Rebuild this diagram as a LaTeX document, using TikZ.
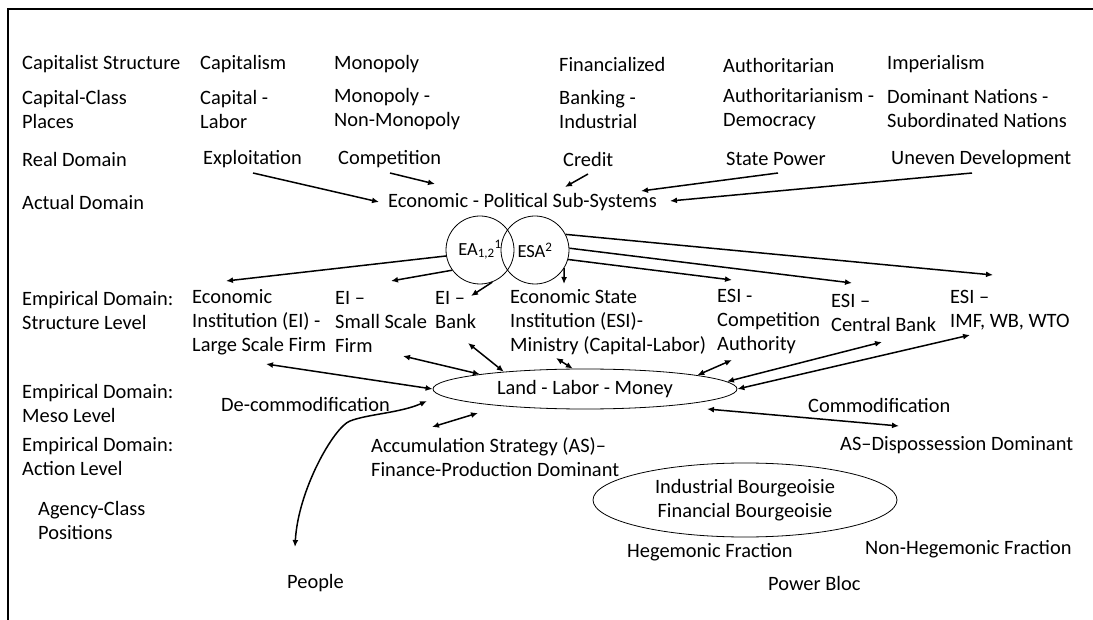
\documentclass[tikz,border=0pt]{standalone}
\usepackage{fontspec}
\setmainfont{Carlito}
\usepackage{tikz}
\usetikzlibrary{arrows.meta,shapes.geometric}
\tikzset{
  txt/.style={font=\fontsize{20.4pt}{24pt}\selectfont, anchor=west, inner sep=0pt, align=left},
  link/.style={draw=black, line width=1.5pt, -{Latex[length=7pt,width=6pt]}},
  both/.style={draw=black, line width=1.5pt, {Latex[length=7pt,width=6pt]}-{Latex[length=7pt,width=6pt]}},
  ring/.style={draw=black, line width=0.8pt, circle, minimum size=68pt, inner sep=0pt,
    font=\fontsize{18.5pt}{22pt}\selectfont},
  oval/.style={draw=black, line width=0.8pt, ellipse, inner sep=0pt, align=center,
    font=\fontsize{20.4pt}{24pt}\selectfont},
  frame/.style={draw=black, line width=1.8pt}
}

\begin{document}
\begin{tikzpicture}[x=1pt,y=-1pt]
  \useasboundingbox (0,0) rectangle (1093,620);
  \draw[frame] (8,620) -- (8,9) -- (1093,9);

  \node[txt] (capstr) at (22,64) {Capitalist Structure};
  \node[txt] (ccp) at (22,109) {Capital-Class\\Places};
  \node[txt] (real) at (22,159) {Real Domain};
  \node[txt] (actual) at (22,202) {Actual Domain};
  \node[txt] (empS) at (22,310) {Empirical Domain:\\Structure Level};
  \node[txt] (empM) at (22,403) {Empirical Domain:\\Meso Level};
  \node[txt] (empA) at (22,456) {Empirical Domain:\\Action Level};
  \node[txt] (agency) at (38,520) {Agency-Class\\Positions};

  \node[txt] (capism) at (200,64) {Capitalism};
  \node[txt] (mono) at (334,64) {Monopoly};
  \node[txt] (fin) at (559,64) {Financialized};
  \node[txt] (auth) at (723,65) {Authoritarian};
  \node[txt] (imp) at (887,64) {Imperialism};

  \node[txt] (cl) at (200,109) {Capital -\\Labor};
  \node[txt] (mnm) at (334,109) {Monopoly -\\Non-Monopoly};
  \node[txt] (bi) at (559,109) {Banking -\\Industrial};
  \node[txt] (ad) at (723,109) {Authoritarianism -\\Democracy};
  \node[txt] (dn) at (887,109) {Dominant Nations -\\Subordinated Nations};

  \node[txt] (expl) at (203,159) {Exploitation};
  \node[txt] (comp) at (338,159) {Competition};
  \node[txt] (credit) at (563,159) {Credit};
  \node[txt] (state) at (726,159) {State Power};
  \node[txt] (uneven) at (891,159) {Uneven Development};

  \node[txt] (eps) at (388,202) {Economic - Political Sub-Systems};

  \node[ring] (ea) at (480,250) {EA\textsubscript{1,2}\textsuperscript{1}};
  \node[ring] (esa) at (535,250) {ESA\textsuperscript{2}};

  \node[txt] (lsf) at (192,322) {Economic\\Institution (EI) -\\Large Scale Firm};
  \node[txt] (ssf) at (335,322) {EI –\\Small Scale\\Firm};
  \node[txt] (bank) at (435,310) {EI –\\Bank};
  \node[txt] (esi) at (510,322) {Economic State\\Institution (ESI)-\\Ministry (Capital-Labor)};
  \node[txt] (ca) at (717,322) {ESI -\\Competition\\Authority};
  \node[txt] (cb) at (831,313) {ESI –\\Central Bank};
  \node[txt] (imf) at (950,310) {ESI –\\IMF, WB, WTO};

  \node[oval, minimum width=304pt, minimum height=40pt] (land) at (585,389) {Land - Labor - Money};

  \node[txt] (decom) at (221,404) {De-commodification};
  \node[txt] (com) at (808,405) {Commodification};
  \node[txt] (acc) at (371,457) {Accumulation Strategy (AS)–\\Finance-Production Dominant};
  \node[txt] (asd) at (840,445) {AS–Dispossession Dominant};

  \node[oval, minimum width=304pt, minimum height=74pt] (bourg) at (745,500) {Industrial Bourgeoisie\\Financial Bourgeoisie};
  \node[txt] (heg) at (627,552) {Hegemonic Fraction};
  \node[txt] (nonheg) at (865,549) {Non-Hegemonic Fraction};
  \node[txt] (bloc) at (768,583) {Power Bloc};
  \node[txt] (people) at (287,583) {People};

  \coordinate (ex0) at (253,173);  \coordinate (ex1) at (379,202);
  \coordinate (co0) at (390,173);  \coordinate (co1) at (435,184);
  \coordinate (cr0) at (588,174);  \coordinate (cr1) at (565,187);
  \coordinate (st0) at (778,173);  \coordinate (st1) at (641,191);
  \coordinate (un0) at (972,173);  \coordinate (un1) at (670,201);
  \draw[link] (ex0) -- (ex1);
  \draw[link] (co0) -- (co1);
  \draw[link] (cr0) -- (cr1);
  \draw[link] (st0) -- (st1);
  \draw[link] (un0) -- (un1);

  \coordinate (lsfT) at (226,281);
  \coordinate (ssfT) at (391,281);
  \coordinate (bankT) at (471,296);
  \coordinate (esiT) at (564,284);
  \coordinate (caT) at (732,280);
  \coordinate (cbT) at (852,283);
  \coordinate (imfT) at (993,275);
  \draw[link] (ea.190) -- (lsfT);
  \draw[link] (ea.216) -- (ssfT);
  \draw[link] (ea.291) -- (bankT);
  \draw[link] (esa.328) -- (esiT);
  \draw[link] (esa.344) -- (caT);
  \draw[link] (esa.3) -- (cbT);
  \draw[link] (esa.27) -- (imfT);

  \coordinate (lsfB) at (266,364);
  \coordinate (ssfB) at (403,356);
  \coordinate (bankB) at (468,343);
  \coordinate (esiB) at (556,358);
  \coordinate (caB) at (732,360);
  \coordinate (cbB) at (882,342);
  \coordinate (imfB) at (970,335);
  \draw[both] (lsfB) -- (land.180);
  \draw[both] (ssfB) -- (land.172.7);
  \draw[both] (bankB) -- (land.168.8);
  \draw[both] (esiB) -- (land.121.8);
  \draw[both] (land.7.4) -- (caB);
  \draw[both] (land.3.2) -- (cbB);
  \draw[both] (land.0) -- (imfB);

  \coordinate (accL) at (432,427);  \coordinate (accR) at (478,413);
  \coordinate (comL) at (707,409);  \coordinate (comR) at (899,426);
  \draw[both] (accL) -- (accR);
  \draw[both] (comL) -- (comR);

  \coordinate (dcT) at (427,401);
  \coordinate (dcM) at (350,421);
  \coordinate (pplT) at (295,547);
  \draw[both] (dcT) .. controls (400,413) and (368,414) .. (dcM)
    .. controls (334,427) and (298,490) .. (pplT);
\end{tikzpicture}
\end{document}
